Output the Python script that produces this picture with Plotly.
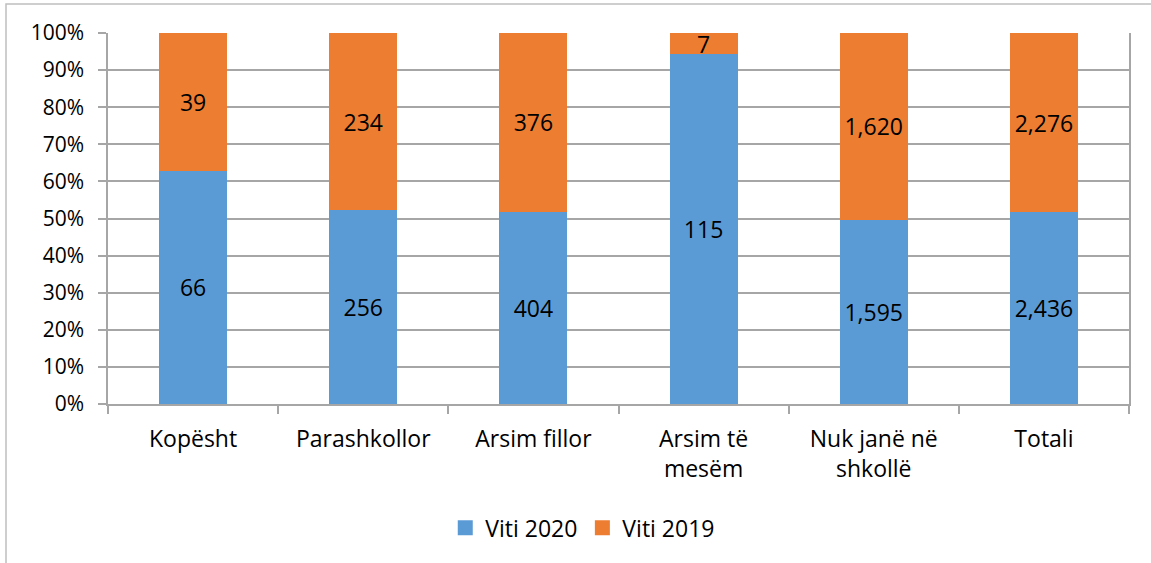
import plotly.graph_objects as go

categories = ["Kopësht", "Parashkollor", "Arsim fillor", "Arsim të<br>mesëm", "Nuk janë në<br>shkollë", "Totali"]
viti_2020 = [66, 256, 404, 115, 1595, 2436]
viti_2019 = [39, 234, 376, 7, 1620, 2276]
y_ticks = [0, 10, 20, 30, 40, 50, 60, 70, 80, 90, 100]
y_tick_labels = [f"{v}%" for v in y_ticks]

FONT = "Open Sans"
GRID = "#a6a6a6"
series = [("Viti 2020", viti_2020, "#5b9bd5"), ("Viti 2019", viti_2019, "#ed7d31")]

fig = go.Figure()
for name, vals, color in series:
    fig.add_trace(go.Bar(
        x=categories, y=vals, name=name, showlegend=False,
        marker=dict(color=color, line=dict(width=0)),
        text=vals, texttemplate="%{text:,}", textposition="inside",
        insidetextanchor="middle", textangle=0, constraintext="none",
        textfont=dict(color="black", size=23, family=FONT),
        hoverinfo="skip",
    ))
# legend entries with square markers
for name, vals, color in series:
    fig.add_trace(go.Scatter(
        x=[None], y=[None], mode="markers", name=name,
        marker=dict(symbol="square", size=15, color=color), hoverinfo="skip",
    ))

fig.update_layout(
    width=1151, height=563,
    barmode="stack", barnorm="percent", bargap=0.6,
    margin=dict(l=108, r=22, t=33, b=159),
    paper_bgcolor="white", plot_bgcolor="white",
    font=dict(family=FONT, size=21, color="black"),
    legend=dict(orientation="h", x=0.465, xanchor="center", y=-0.334, yanchor="middle",
                font=dict(size=23, family=FONT), traceorder="normal",
                itemwidth=30, tracegroupgap=0),
    showlegend=True,
)
fig.update_yaxes(
    range=[0, 100], tickvals=y_ticks, ticktext=y_tick_labels,
    showgrid=True, gridcolor=GRID, gridwidth=1.5,
    showline=True, linecolor=GRID, linewidth=1.5, mirror=True,
    ticks="outside", ticklen=8, tickcolor=GRID, tickwidth=1.5,
    ticklabelstandoff=10, zeroline=False, fixedrange=True, automargin=False,
    tickfont=dict(size=21),
)
fig.update_xaxes(
    showline=True, linecolor=GRID, linewidth=1.5,
    ticks="outside", tickson="boundaries", ticklen=8, tickcolor=GRID, tickwidth=1.5,
    ticklabelstandoff=14, tickfont=dict(size=23), fixedrange=True, automargin=False,
)
# outer chart frame
fig.add_shape(type="rect", xref="paper", yref="paper",
              x0=-0.0999, x1=1.3, y0=-0.8, y1=1.078,
              line=dict(color="#bfbfbf", width=1.5), layer="below")

fig.write_html("out.html", config={"displayModeBar": False},
               post_script="document.body.style.margin='0';document.body.style.overflow='hidden';")
